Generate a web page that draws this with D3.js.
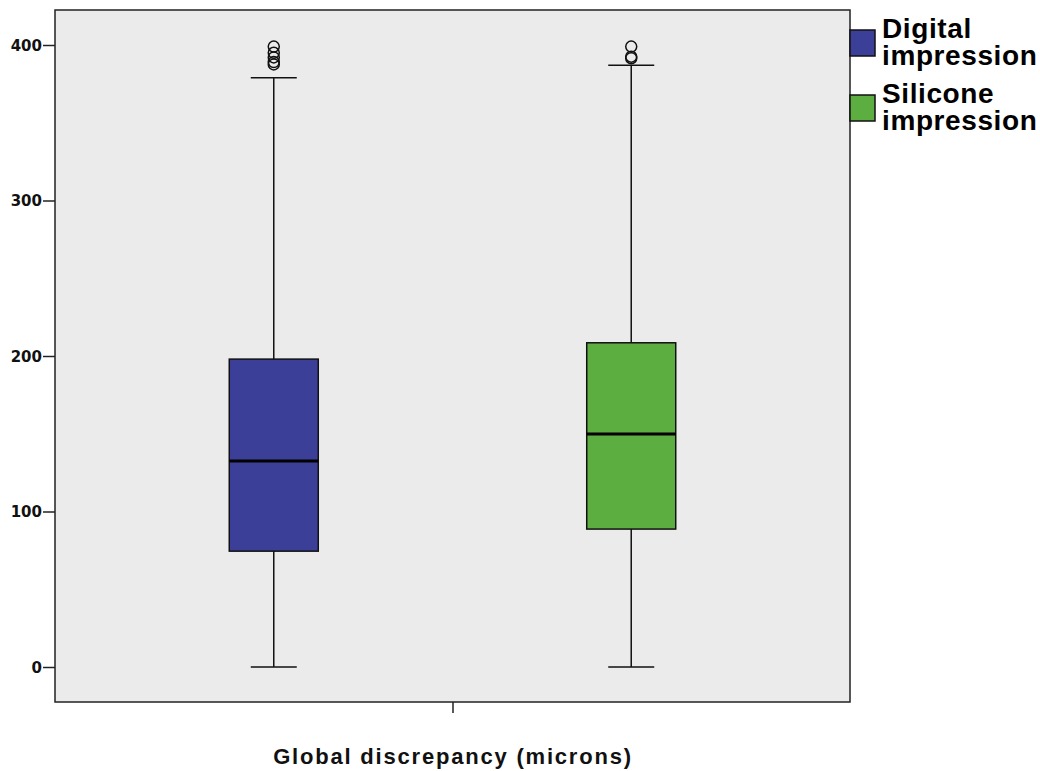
<!DOCTYPE html>
<html>
<head>
<meta charset="utf-8">
<script src="https://cdn.jsdelivr.net/npm/d3@7"></script>
<style>
  body { margin: 0; background: #fff; }
  svg text { font-family: "Liberation Sans", Arial, sans-serif; font-weight: bold; }
</style>
</head>
<body>
<div id="chart"></div>
<script>
// groups and box statistics
var groups = ["Digital impression", "Silicone impression"];
var whiskerLow = [0, 0];
var q1 = [74.5, 88.7];
var median = [132.5, 149.8];
var q3 = [198, 208.5];
var whiskerHigh = [379, 387];
var outliers = [[399, 395, 392, 389, 387.5], [399, 392.5, 391.5]];
var yTicks = [0, 100, 200, 300, 400];
var colors = ["#3c3f97", "#5dae41"];

var W = 1040, H = 771;
var plotL = 55, plotR = 850, plotT = 10, plotB = 702;

var svg = d3.select("#chart").append("svg")
  .attr("width", W)
  .attr("height", H);

var y = d3.scaleLinear().domain([0, 400]).range([667, 45]);
var x = d3.scalePoint().domain(groups).range([plotL, plotR]).padding(0.612);
var boxW = 89, capW = 46;

// plot background
svg.append("rect")
  .attr("x", plotL).attr("y", plotT)
  .attr("width", plotR - plotL).attr("height", plotB - plotT)
  .attr("fill", "#ebebeb")
  .attr("stroke", "#222").attr("stroke-width", 1.5);

// y axis
var yAxis = d3.axisLeft(y).tickValues(yTicks).tickSize(12).tickPadding(1);
var ga = svg.append("g").attr("transform", "translate(" + plotL + ",0)").call(yAxis);
ga.select(".domain").remove();
ga.selectAll("line").attr("stroke", "#222").attr("stroke-width", 1.5);
ga.selectAll("text").attr("font-size", 15).attr("fill", "#111")
  .style("font-family", "'DejaVu Sans', sans-serif").attr("dy", "0.36em");

// x axis single tick
svg.append("line")
  .attr("x1", 453).attr("x2", 453)
  .attr("y1", plotB).attr("y2", plotB + 11)
  .attr("stroke", "#222").attr("stroke-width", 1.5);

svg.append("text")
  .attr("x", 453).attr("y", 764)
  .attr("text-anchor", "middle")
  .attr("font-size", 22)
  .attr("letter-spacing", 1.8)
  .attr("fill", "#111")
  .text("Global discrepancy (microns)");

// boxes
groups.forEach(function(g, i) {
  var cx = x(g);
  // whisker stem
  svg.append("line")
    .attr("x1", cx).attr("x2", cx)
    .attr("y1", y(whiskerLow[i])).attr("y2", y(whiskerHigh[i]))
    .attr("stroke", "#111").attr("stroke-width", 1.5);
  // caps
  [whiskerLow[i], whiskerHigh[i]].forEach(function(v) {
    svg.append("line")
      .attr("x1", cx - capW / 2).attr("x2", cx + capW / 2)
      .attr("y1", y(v)).attr("y2", y(v))
      .attr("stroke", "#111").attr("stroke-width", 1.5);
  });
  // box
  svg.append("rect")
    .attr("x", cx - boxW / 2).attr("y", y(q3[i]))
    .attr("width", boxW).attr("height", y(q1[i]) - y(q3[i]))
    .attr("fill", colors[i])
    .attr("stroke", "#111").attr("stroke-width", 1.5);
  // median
  svg.append("line")
    .attr("x1", cx - boxW / 2).attr("x2", cx + boxW / 2)
    .attr("y1", y(median[i])).attr("y2", y(median[i]))
    .attr("stroke", "#000").attr("stroke-width", 3);
  // outliers
  outliers[i].forEach(function(v) {
    svg.append("circle")
      .attr("cx", cx).attr("cy", y(v)).attr("r", 5.5)
      .attr("fill", "none")
      .attr("stroke", "#111").attr("stroke-width", 1.5);
  });
});

// legend
var legendY = [30, 95];
groups.forEach(function(g, i) {
  var lg = svg.append("g").attr("transform", "translate(850," + legendY[i] + ")");
  lg.append("rect")
    .attr("x", 0).attr("y", 0)
    .attr("width", 25).attr("height", 26)
    .attr("fill", colors[i])
    .attr("stroke", "#111").attr("stroke-width", 1.5);
  var t = lg.append("text")
    .attr("font-size", 28)
    .attr("letter-spacing", 0.6)
    .attr("fill", "#000");
  g.split(" ").forEach(function(w, j) {
    t.append("tspan")
      .attr("x", 32).attr("y", 8 + j * 27)
      .text(w);
  });
});
</script>
</body>
</html>
